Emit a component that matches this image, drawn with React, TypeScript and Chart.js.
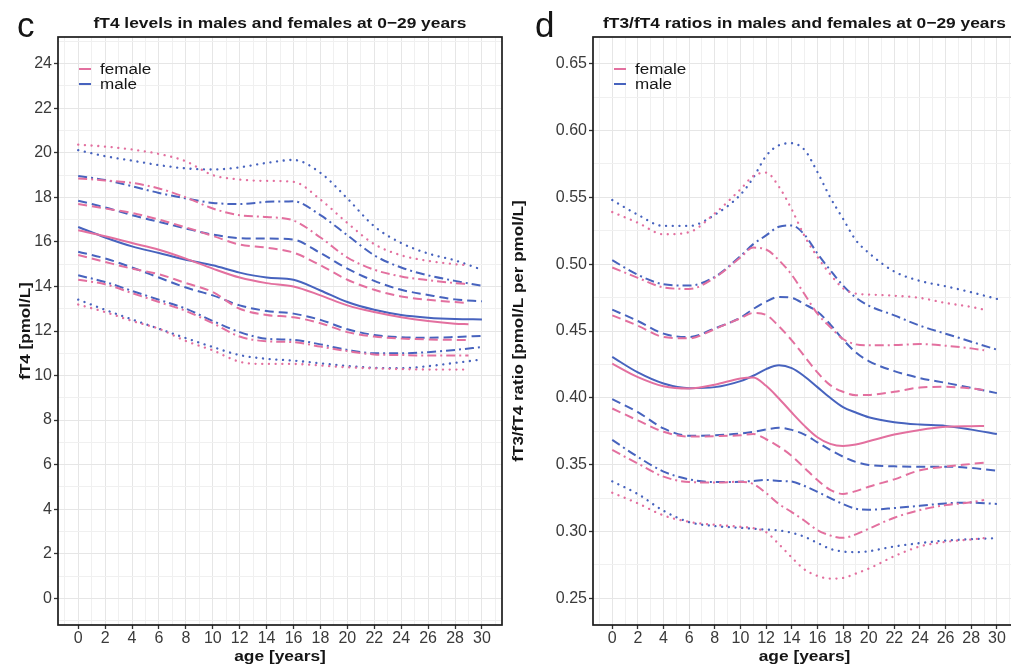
import React, { useEffect, useRef } from 'react';
import { Chart, registerables } from 'chart.js';

Chart.register(...registerables);

// ---------------- data ----------------
const SEXES = ['female', 'male'];

// Panel c: fT4 [pmol/L]
const C_AGES_F = [0, 2, 4, 6, 8, 10, 12, 14, 16, 18, 20, 22, 24, 26, 28, 29];
const C_AGES_M = [0, 2, 4, 6, 8, 10, 12, 14, 16, 18, 20, 22, 24, 26, 28, 30];

const C_F_P025 = [13.19, 12.85, 12.45, 12.1, 11.55, 11.13, 10.62, 10.52, 10.52, 10.45, 10.37, 10.32, 10.29, 10.27, 10.27, 10.27];
const C_F_P10 = [14.3, 14.1, 13.7, 13.3, 12.9, 12.35, 11.75, 11.54, 11.5, 11.3, 11.1, 10.95, 10.92, 10.9, 10.9, 10.9];
const C_F_P25 = [15.41, 15.1, 14.8, 14.55, 14.15, 13.75, 13.0, 12.72, 12.62, 12.35, 11.95, 11.75, 11.66, 11.62, 11.6, 11.59];
const C_F_P50 = [16.52, 16.25, 15.95, 15.65, 15.25, 14.8, 14.4, 14.15, 14.0, 13.6, 13.15, 12.85, 12.62, 12.45, 12.33, 12.3];
const C_F_P75 = [17.7, 17.5, 17.3, 17.0, 16.65, 16.27, 15.88, 15.74, 15.52, 14.95, 14.3, 13.85, 13.55, 13.4, 13.3, 13.26];
const C_F_P90 = [18.85, 18.76, 18.65, 18.4, 18.0, 17.5, 17.2, 17.12, 16.96, 16.2, 15.3, 14.75, 14.45, 14.28, 14.15, 14.1];
const C_F_P975 = [20.37, 20.28, 20.15, 19.95, 19.62, 19.0, 18.8, 18.74, 18.7, 17.9, 16.85, 15.9, 15.4, 15.15, 15.0, 14.95];

const C_M_P025 = [13.41, 12.95, 12.52, 12.1, 11.68, 11.28, 10.92, 10.75, 10.67, 10.55, 10.43, 10.35, 10.33, 10.42, 10.57, 10.72];
const C_M_P10 = [14.5, 14.2, 13.8, 13.4, 13.0, 12.45, 11.95, 11.65, 11.6, 11.4, 11.15, 11.0, 11.0, 11.05, 11.15, 11.28];
const C_M_P25 = [15.56, 15.26, 14.85, 14.4, 13.95, 13.6, 13.15, 12.9, 12.78, 12.5, 12.08, 11.82, 11.72, 11.7, 11.73, 11.78];
const C_M_P50 = [16.67, 16.2, 15.8, 15.5, 15.2, 14.95, 14.62, 14.4, 14.3, 13.82, 13.3, 12.95, 12.72, 12.6, 12.54, 12.52];
const C_M_P75 = [17.85, 17.55, 17.2, 16.9, 16.6, 16.33, 16.17, 16.15, 16.1, 15.5, 14.8, 14.25, 13.85, 13.62, 13.42, 13.33];
const C_M_P90 = [18.96, 18.78, 18.5, 18.2, 17.95, 17.75, 17.7, 17.8, 17.82, 17.2, 16.3, 15.4, 14.85, 14.5, 14.25, 14.03];
const C_M_P975 = [20.12, 19.85, 19.65, 19.45, 19.3, 19.25, 19.35, 19.55, 19.68, 19.1, 17.95, 16.7, 15.95, 15.48, 15.17, 14.75];

// Panel d: fT3/fT4 ratio
const D_AGES_F = [0, 2, 4, 6, 8, 10, 11, 12, 13, 14, 15, 16, 17, 18, 19, 20, 22, 24, 26, 28, 29];
const D_AGES_M = [0, 2, 4, 6, 8, 10, 11, 12, 13, 14, 15, 16, 17, 18, 19, 20, 22, 24, 26, 28, 30];

const D_F_P025 = [0.329, 0.321, 0.312, 0.3072, 0.305, 0.3035, 0.3025, 0.2995, 0.2905, 0.2805, 0.2715, 0.2668, 0.2647, 0.2652, 0.2685, 0.2722, 0.2815, 0.2888, 0.2922, 0.294, 0.295];
const D_F_P10 = [0.361, 0.3508, 0.341, 0.337, 0.3366, 0.3372, 0.3355, 0.3287, 0.3205, 0.3145, 0.308, 0.301, 0.297, 0.2952, 0.2978, 0.302, 0.3103, 0.316, 0.3197, 0.3218, 0.3236];
const D_F_P25 = [0.392, 0.3831, 0.3746, 0.371, 0.3713, 0.372, 0.373, 0.369, 0.3635, 0.3565, 0.3475, 0.3385, 0.3312, 0.3281, 0.3302, 0.3335, 0.339, 0.3458, 0.3485, 0.3505, 0.3515];
const D_F_P50 = [0.4256, 0.4155, 0.4087, 0.407, 0.4098, 0.4145, 0.4152, 0.409, 0.3995, 0.389, 0.379, 0.3705, 0.3655, 0.3639, 0.365, 0.3675, 0.3725, 0.376, 0.3783, 0.3788, 0.3789];
const D_F_P75 = [0.4617, 0.454, 0.4455, 0.4445, 0.4515, 0.4595, 0.4635, 0.462, 0.4535, 0.443, 0.431, 0.419, 0.4095, 0.4045, 0.402, 0.4022, 0.4045, 0.4077, 0.4082, 0.407, 0.4058];
const D_F_P90 = [0.4975, 0.4898, 0.4826, 0.4815, 0.49, 0.505, 0.5124, 0.511, 0.503, 0.492, 0.4775, 0.463, 0.453, 0.444, 0.44, 0.4393, 0.4395, 0.4402, 0.439, 0.437, 0.4356];
const D_F_P975 = [0.539, 0.531, 0.5224, 0.524, 0.538, 0.556, 0.566, 0.5685, 0.558, 0.541, 0.521, 0.5055, 0.4925, 0.482, 0.478, 0.4773, 0.4764, 0.4748, 0.471, 0.468, 0.466];

const D_M_P025 = [0.3375, 0.328, 0.3155, 0.307, 0.304, 0.3027, 0.302, 0.3014, 0.3008, 0.299, 0.296, 0.2915, 0.287, 0.285, 0.2845, 0.2852, 0.2888, 0.2913, 0.2932, 0.2942, 0.295];
const D_M_P10 = [0.3685, 0.3558, 0.3448, 0.339, 0.337, 0.3372, 0.3378, 0.3386, 0.3378, 0.3373, 0.334, 0.3297, 0.325, 0.3205, 0.317, 0.3163, 0.3175, 0.3192, 0.321, 0.3216, 0.3206];
const D_M_P25 = [0.399, 0.3893, 0.3771, 0.3716, 0.372, 0.3732, 0.3745, 0.3763, 0.3776, 0.376, 0.3725, 0.3667, 0.361, 0.356, 0.352, 0.3498, 0.3487, 0.3485, 0.3485, 0.3475, 0.3455];
const D_M_P50 = [0.4306, 0.419, 0.4107, 0.4072, 0.408, 0.4125, 0.4165, 0.4215, 0.4243, 0.4222, 0.416, 0.408, 0.4, 0.393, 0.389, 0.3855, 0.3818, 0.38, 0.379, 0.3762, 0.3729];
const D_M_P75 = [0.466, 0.4575, 0.448, 0.4455, 0.452, 0.46, 0.4665, 0.472, 0.4755, 0.4748, 0.47, 0.4645, 0.455, 0.4435, 0.434, 0.4275, 0.42, 0.4148, 0.4112, 0.4075, 0.4035];
const D_M_P90 = [0.503, 0.492, 0.485, 0.484, 0.4905, 0.506, 0.515, 0.5215, 0.528, 0.529, 0.522, 0.508, 0.4955, 0.484, 0.475, 0.469, 0.4617, 0.454, 0.448, 0.442, 0.436];
const D_M_P975 = [0.548, 0.537, 0.5286, 0.5286, 0.537, 0.552, 0.5647, 0.581, 0.589, 0.5905, 0.5855, 0.569, 0.55, 0.534, 0.518, 0.5085, 0.4945, 0.4875, 0.4835, 0.479, 0.474];

// ---------------- styles ----------------
const FONT = '"Liberation Sans", Arial, Helvetica, sans-serif';
const PINK = '#E3709F';
const BLUE = '#4763BE';
const TEXT = '#151515';
const TICK_TEXT = '#3a3a3a';
const GRID_MAJOR = '#E6E6E6';
const GRID_MINOR = '#F0F0F0';

type LineStyle = { dash: number[]; cap: CanvasLineCap; width: number };
const DOTTED: LineStyle = { dash: [0.1, 6.6], cap: 'round', width: 2.3 };
const DASHDOT: LineStyle = { dash: [9, 4, 2, 4], cap: 'butt', width: 2 };
const DASHED: LineStyle = { dash: [9, 5], cap: 'butt', width: 2 };
const SOLID: LineStyle = { dash: [], cap: 'butt', width: 2 };

function series(label: string, ages: number[], vals: number[], color: string, st: LineStyle) {
  return {
    label,
    data: ages.map((a, i) => ({ x: a, y: vals[i] })),
    borderColor: color,
    backgroundColor: color,
    borderWidth: st.width,
    borderDash: st.dash,
    borderCapStyle: st.cap,
    pointRadius: 0,
    pointHoverRadius: 0,
    fill: false,
    cubicInterpolationMode: 'monotone',
  };
}

function buildDatasets(agesF: number[], agesM: number[], f: number[][], m: number[][]) {
  const styles = [DOTTED, DASHDOT, DASHED, SOLID, DASHED, DASHDOT, DOTTED];
  const names = ['P2.5', 'P10', 'P25', 'P50', 'P75', 'P90', 'P97.5'];
  const out: any[] = [];
  f.forEach((v, i) => out.push(series(SEXES[0] + ' ' + names[i], agesF, v, PINK, styles[i])));
  m.forEach((v, i) => out.push(series(SEXES[1] + ' ' + names[i], agesM, v, BLUE, styles[i])));
  return out;
}

function drawText(
  ctx: CanvasRenderingContext2D, text: string, x: number, y: number, font: string,
  align: CanvasTextAlign, baseline: CanvasTextBaseline, sx: number, rotate = 0, color = TEXT,
) {
  ctx.save();
  ctx.translate(x, y);
  if (rotate) ctx.rotate(rotate);
  ctx.scale(sx, 1);
  ctx.font = font;
  ctx.fillStyle = color;
  ctx.textAlign = align;
  ctx.textBaseline = baseline;
  ctx.fillText(text, 0, 0);
  ctx.restore();
}

type PanelCfg = {
  id: string;
  letter: string;
  letterX: number;
  title: string;
  yTitle: string;
  yTitleX: number;
  yAxisWidth: number;
  canvasWidth: number;
  canvasLeft: number;
  yMin: number;
  yMax: number;
  yStep: number;
  isMajorY: (v: number) => boolean;
  fmtY: (v: number) => string;
  datasets: any[];
};

const isMajorX = (v: number) => Math.round(v) % 2 === 0 && v >= 0 && v <= 30;

function decorPlugin(p: PanelCfg) {
  return {
    id: 'decor_' + p.id,
    afterDatasetsDraw(chart: any) {
      const { ctx, chartArea: a } = chart;
      ctx.save();
      ctx.setLineDash([]);
      ctx.strokeStyle = '#1c1c1c';
      ctx.lineWidth = 1.7;
      ctx.strokeRect(a.left, a.top, a.right - a.left, a.bottom - a.top);
      // legend
      const lx = a.left + 21;
      const ly = [69, 84];
      const cols = [PINK, BLUE];
      for (let i = 0; i < 2; i++) {
        ctx.strokeStyle = cols[i];
        ctx.lineWidth = 2;
        ctx.beginPath();
        ctx.moveTo(lx, ly[i]);
        ctx.lineTo(lx + 12, ly[i]);
        ctx.stroke();
        drawText(ctx, SEXES[i], lx + 21, ly[i] + 0.5, `15.5px ${FONT}`, 'left', 'middle', 1.1);
      }
      ctx.restore();
    },
    afterDraw(chart: any) {
      const { ctx, chartArea: a } = chart;
      const cx = (a.left + a.right) / 2;
      const cy = (a.top + a.bottom) / 2;
      drawText(ctx, p.title, cx, 27.5, `bold 15.5px ${FONT}`, 'center', 'alphabetic', 1.12);
      drawText(ctx, 'age [years]', cx, 661, `bold 15.5px ${FONT}`, 'center', 'alphabetic', 1.12);
      drawText(ctx, p.yTitle, p.yTitleX, cy, `bold 15.5px ${FONT}`, 'center', 'middle', 1.1, -Math.PI / 2);
      drawText(ctx, p.letter, p.letterX, 37, `35px ${FONT}`, 'left', 'alphabetic', 1);
    },
  };
}

function makeConfig(p: PanelCfg): any {
  const tickFont = { family: FONT, size: 16 };
  return {
    type: 'line',
    data: { datasets: p.datasets },
    options: {
      responsive: false,
      maintainAspectRatio: false,
      devicePixelRatio: 1,
      animation: false,
      events: [],
      layout: { padding: { left: 0, right: 3, top: 37, bottom: 0 } },
      plugins: { legend: { display: false }, tooltip: { enabled: false }, title: { display: false } },
      scales: {
        x: {
          type: 'linear',
          min: -1.5,
          max: 31.49,
          afterFit: (s: any) => { s.height = 41; },
          border: { display: false },
          grid: {
            color: (c: any) => (c.tick && isMajorX(c.tick.value) ? GRID_MAJOR : GRID_MINOR),
            lineWidth: 1,
            drawTicks: true,
            tickLength: 4,
            tickWidth: 1.3,
            tickColor: (c: any) => (c.tick && isMajorX(c.tick.value) ? '#333333' : 'rgba(0,0,0,0)'),
          },
          ticks: {
            stepSize: 1,
            autoSkip: false,
            maxRotation: 0,
            minRotation: 0,
            includeBounds: false,
            padding: 0,
            color: TICK_TEXT,
            font: tickFont,
            callback: (v: number) => (isMajorX(v) ? String(Math.round(v)) : ''),
          },
        },
        y: {
          type: 'linear',
          min: p.yMin,
          max: p.yMax,
          afterFit: (s: any) => { s.width = p.yAxisWidth; },
          border: { display: false },
          grid: {
            color: (c: any) => (c.tick && p.isMajorY(c.tick.value) ? GRID_MAJOR : GRID_MINOR),
            lineWidth: 1,
            drawTicks: true,
            tickLength: 4,
            tickWidth: 1.3,
            tickColor: (c: any) => (c.tick && p.isMajorY(c.tick.value) ? '#333333' : 'rgba(0,0,0,0)'),
          },
          ticks: {
            stepSize: p.yStep,
            autoSkip: false,
            includeBounds: false,
            padding: 2,
            color: TICK_TEXT,
            font: tickFont,
            callback: (v: number) => (p.isMajorY(v) ? p.fmtY(v) : ''),
          },
        },
      },
    },
    plugins: [decorPlugin(p)],
  };
}

const PANEL_C: PanelCfg = {
  id: 'c',
  letter: 'c',
  letterX: 17,
  title: 'fT4 levels in males and females at 0\u221229 years',
  yTitle: 'fT4 [pmol/L]',
  yTitleX: 26,
  yAxisWidth: 58,
  canvasWidth: 505,
  canvasLeft: 0,
  yMin: -1.2,
  yMax: 25.2,
  yStep: 1,
  isMajorY: (v) => Math.round(v) % 2 === 0 && v >= 0 && v <= 24,
  fmtY: (v) => String(Math.round(v)),
  datasets: buildDatasets(
    C_AGES_F, C_AGES_M,
    [C_F_P025, C_F_P10, C_F_P25, C_F_P50, C_F_P75, C_F_P90, C_F_P975],
    [C_M_P025, C_M_P10, C_M_P25, C_M_P50, C_M_P75, C_M_P90, C_M_P975],
  ),
};

const PANEL_D: PanelCfg = {
  id: 'd',
  letter: 'd',
  letterX: 30,
  title: 'fT3/fT4 ratios in males and females at 0\u221229 years',
  yTitle: 'fT3/fT4 ratio [pmol/L per pmol/L]',
  yTitleX: 14,
  yAxisWidth: 88,
  canvasWidth: 514,
  canvasLeft: 505,
  yMin: 0.23,
  yMax: 0.67,
  yStep: 0.025,
  isMajorY: (v) => Math.abs(Math.round(v * 1000) % 50) === 0 && v > 0.24 && v < 0.66,
  fmtY: (v) => v.toFixed(2),
  datasets: buildDatasets(
    D_AGES_F, D_AGES_M,
    [D_F_P025, D_F_P10, D_F_P25, D_F_P50, D_F_P75, D_F_P90, D_F_P975],
    [D_M_P025, D_M_P10, D_M_P25, D_M_P50, D_M_P75, D_M_P90, D_M_P975],
  ),
};

function Panel({ cfg }: { cfg: PanelCfg }) {
  const ref = useRef<HTMLCanvasElement | null>(null);
  useEffect(() => {
    if (!ref.current) return;
    const chart = new Chart(ref.current, makeConfig(cfg));
    return () => chart.destroy();
  }, [cfg]);
  return (
    <canvas
      ref={ref}
      width={cfg.canvasWidth}
      height={666}
      style={{ position: 'absolute', left: cfg.canvasLeft, top: 0, width: cfg.canvasWidth, height: 666 }}
    />
  );
}

export default function App() {
  return (
    <div
      style={{
        position: 'absolute', left: 0, top: 0, width: 1011, height: 666,
        overflow: 'hidden', background: '#ffffff',
      }}
    >
      <Panel cfg={PANEL_C} />
      <Panel cfg={PANEL_D} />
    </div>
  );
}
